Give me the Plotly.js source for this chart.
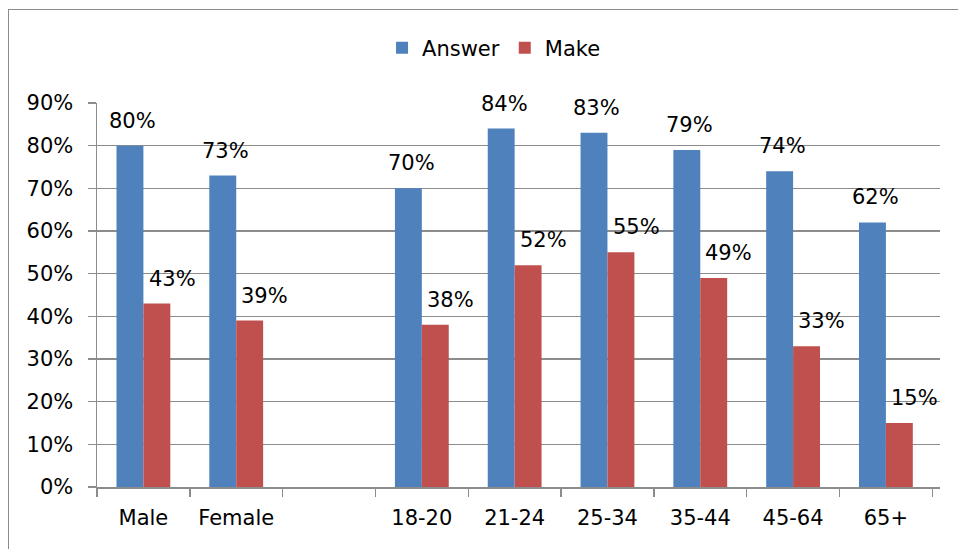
<!DOCTYPE html>
<html>
<head>
<meta charset="utf-8">
<script src="https://cdn.plot.ly/plotly-3.0.1.min.js"></script>
<style>
  html, body { margin: 0; padding: 0; background: #fff; }
  #wrap { position: relative; width: 958px; height: 549px; overflow: hidden; }
  #chart { width: 958px; height: 549px; }
  #frame { position: absolute; left: 8px; top: 9px; width: 960px; height: 560px; border: 1.5px solid #8c8c8c; pointer-events: none; }
</style>
</head>
<body>
<div id="wrap">
  <div id="chart"></div>
  <div id="frame"></div>
</div>
<script>
const categories = ["Male", "Female", " ", "18-20", "21-24", "25-34", "35-44", "45-64", "65+"];
const answer = [0.80, 0.73, null, 0.70, 0.84, 0.83, 0.79, 0.74, 0.62];
const make   = [0.43, 0.39, null, 0.38, 0.52, 0.55, 0.49, 0.33, 0.15];

const FONT = "DejaVu Sans, sans-serif";
const blue = "#4F81BD", red = "#C0504D";

const traces = [
  { type: "bar", name: "Answer", x: categories, y: answer, marker: { color: blue }, hoverinfo: "none" },
  { type: "bar", name: "Make", x: categories, y: make, marker: { color: red }, hoverinfo: "none" }
];

const barHalf = 13.6;
const annotations = [];
categories.forEach((c, i) => {
  if (answer[i] != null) annotations.push({ x: c, y: answer[i], xref: "x", yref: "y", text: Math.round(answer[i]*100) + "%", showarrow: false, yanchor: "bottom", xshift: -barHalf + 3, yshift: 11, font: { family: FONT, size: 21, color: "#000" } });
  if (make[i] != null) annotations.push({ x: c, y: make[i], xref: "x", yref: "y", text: Math.round(make[i]*100) + "%", showarrow: false, yanchor: "bottom", xshift: barHalf + 15, yshift: 11, font: { family: FONT, size: 21, color: "#000" } });
});

const layout = {
  width: 958, height: 549,
  margin: { l: 97, r: 18, t: 103, b: 62 },
  paper_bgcolor: "#fff", plot_bgcolor: "#fff",
  font: { family: FONT, size: 21, color: "#000" },
  barmode: "group", bargap: 0.42, bargroupgap: 0,
  showlegend: true,
  legend: { orientation: "h", x: 0.471, xanchor: "center", y: 1.143, yanchor: "middle", font: { family: FONT, size: 21, color: "#000" }, itemwidth: 30, traceorder: "normal" },
  xaxis: {
    type: "category", tickson: "boundaries", ticks: "outside", ticklen: 8, tickcolor: "#8c8c8c", tickwidth: 1.5,
    showline: true, linecolor: "#8c8c8c", linewidth: 1.5, showgrid: false, ticklabelstandoff: 11,
    tickfont: { family: FONT, size: 21, color: "#000" }, fixedrange: true
  },
  yaxis: {
    range: [0, 0.9], dtick: 0.1, tick0: 0, tickformat: ".0%", ticks: "outside", ticklen: 8, tickcolor: "#8c8c8c", tickwidth: 1.5,
    showline: true, linecolor: "#8c8c8c", linewidth: 1.5, showgrid: true, gridcolor: "#8c8c8c", gridwidth: 1.5, zeroline: false,
    ticklabelstandoff: 10, tickfont: { family: FONT, size: 21, color: "#000" }, fixedrange: true
  },
  annotations: annotations
};

Plotly.newPlot("chart", traces, layout, { displayModeBar: false, staticPlot: true });
</script>
</body>
</html>
